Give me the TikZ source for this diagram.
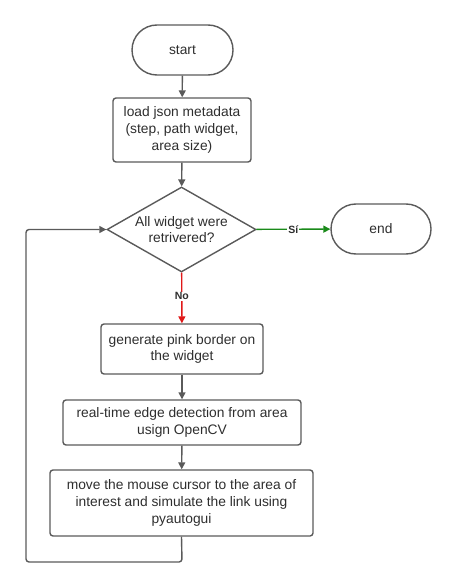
\documentclass[tikz,border=0pt]{standalone}
\usepackage{fontspec}
\setmainfont{Liberation Sans}
\usetikzlibrary{shapes.geometric,arrows.meta}
\definecolor{ln}{HTML}{5A5A5A}
\definecolor{tx}{HTML}{2E2E2E}
\definecolor{gr}{HTML}{1A8A1A}
\definecolor{rd}{HTML}{E01818}
\begin{document}
\begin{tikzpicture}[x=1pt,y=-1pt,
  every node/.style={font=\fontsize{13.8}{16.8}\selectfont, text=tx},
  boxnode/.style={draw=ln, line width=1.4pt, rounded corners=3pt, align=center, inner sep=0pt},
  term/.style={draw=ln, line width=1.4pt, rounded corners=25pt, inner sep=0pt},
  dec/.style={draw=ln, line width=1.4pt, diamond, aspect=1.75, align=center, inner sep=0pt, minimum width=149pt, minimum height=85pt},
  conn/.style={draw=ln, line width=1.4pt, -{Triangle[length=7pt,width=7pt]}},
  lab/.style={font=\bfseries\fontsize{10.5}{12}\selectfont, fill=white, inner sep=1pt}]
\useasboundingbox (0,0) rectangle (457,588);
\node[term, minimum width=101pt, minimum height=50pt] (start) at (182.5,50) {start};
\node[boxnode, minimum width=138pt, minimum height=64pt] (load) at (182,130) {load json metadata\\(step, path widget,\\area size)};
\node[dec] (q) at (181.5,229.5) {All widget were\\retrivered?};
\node[term, minimum width=100pt, minimum height=50pt] (end) at (381,229) {end};
\node[boxnode, minimum width=162pt, minimum height=50pt] (pink) at (182,349) {generate pink border on\\the widget};
\node[boxnode, minimum width=238pt, minimum height=45pt] (edge) at (182,422.5) {real-time edge detection from area\\usign OpenCV};
\node[boxnode, minimum width=263pt, minimum height=66pt] (move) at (181.5,503) {move the mouse cursor to the area of\\interest and simulate the link using\\pyautogui};
\coordinate (c1) at (182,562);
\coordinate (c2) at (26,562);
\coordinate (c3) at (26,229.5);
\draw[conn] (start) -- (load);
\draw[conn] (load) -- (q);
\draw[conn, color=gr] (q) -- (end) node[lab, pos=0.5, text=tx] {Sí};
\draw[conn, color=rd] (q) -- (pink) node[lab, pos=0.47, text=tx] {No};
\draw[conn] (pink) -- (edge);
\draw[conn] (edge) -- (move);
\draw[conn, rounded corners=3pt] (move.south) -- (c1) -- (c2) -- (c3) -- (q.west);
\end{tikzpicture}
\end{document}
